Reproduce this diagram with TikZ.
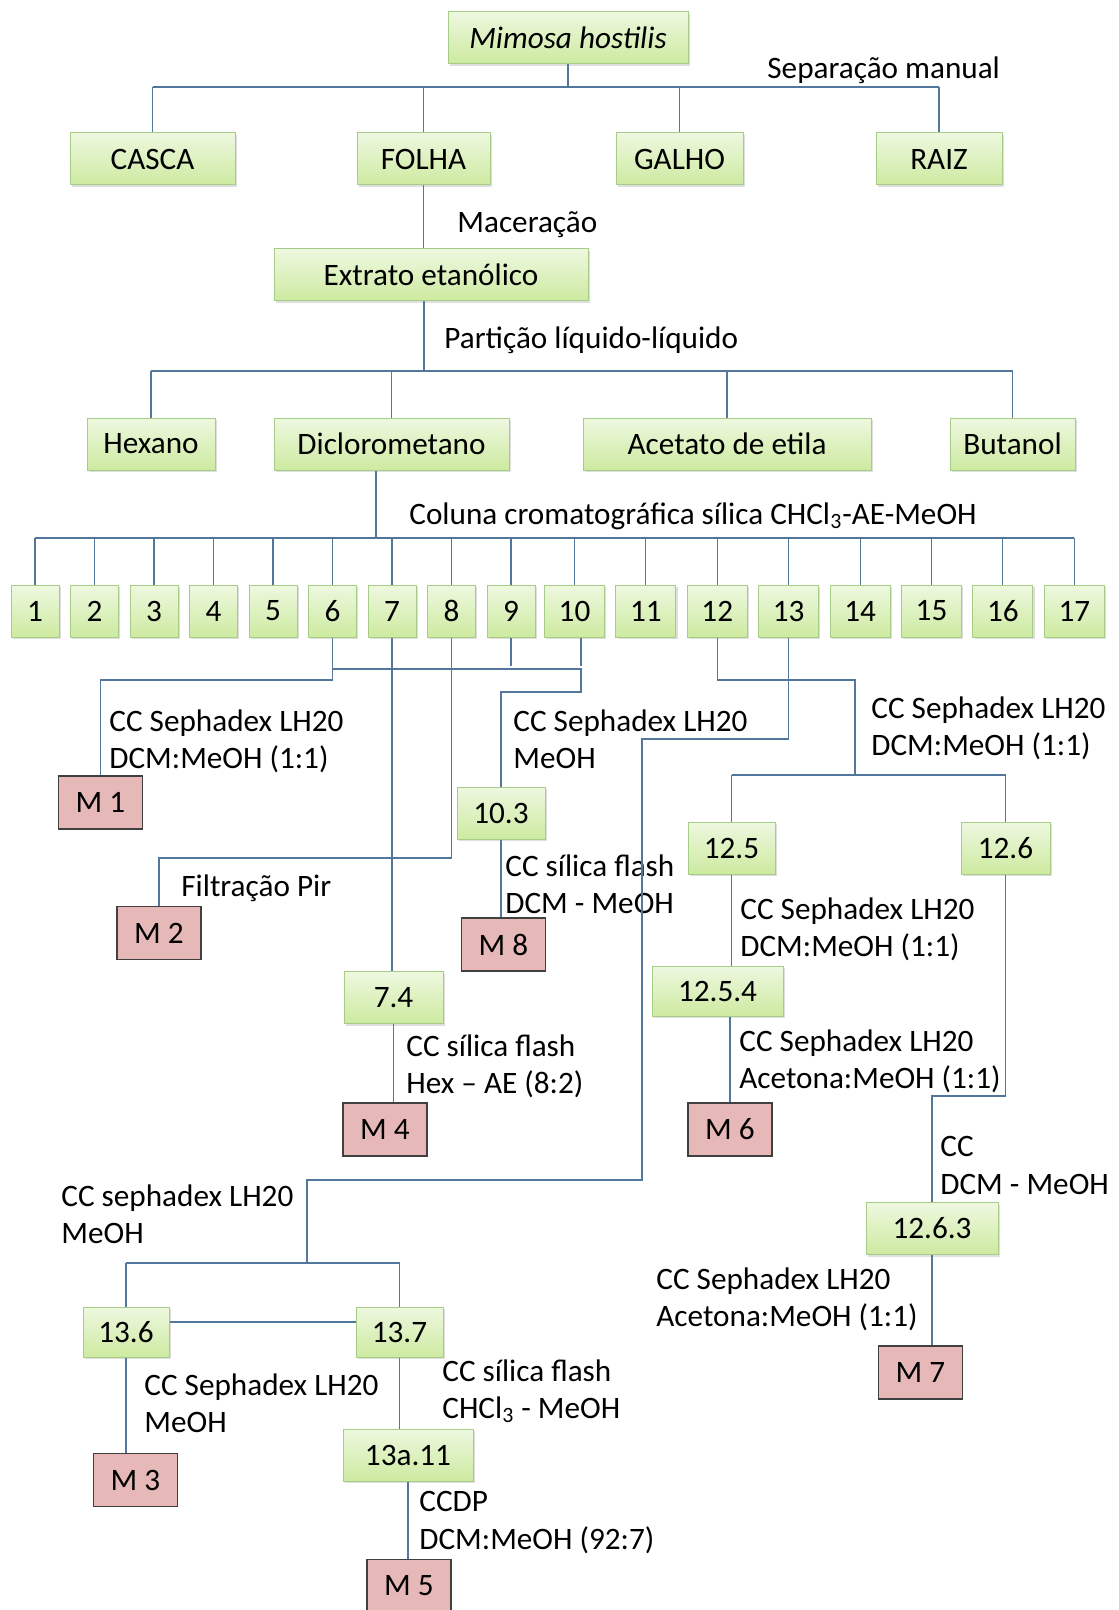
\documentclass[tikz,border=0pt]{standalone}
\usepackage{fontspec}
\setmainfont{Carlito}
\usetikzlibrary{shadows}
\definecolor{boxgreentop}{HTML}{EEF8E0}
\definecolor{boxgreenbot}{HTML}{CDEAA0}
\definecolor{boxgreenline}{HTML}{A6CC88}
\definecolor{boxred}{HTML}{E6B9B8}
\definecolor{boxredline}{HTML}{404040}
\definecolor{linkblue}{HTML}{52779B}

\begin{document}
\begin{tikzpicture}[x=0.5pt, y=-0.5pt,
  fraction/.style={rectangle, draw=boxgreenline, top color=boxgreentop, bottom color=boxgreenbot, line width=0.5pt, inner sep=0pt, minimum height=26pt, drop shadow={shadow xshift=0.8pt, shadow yshift=-1.2pt, opacity=0.25}, font=\fontsize{15.6}{18.75}\selectfont},
  compound/.style={rectangle, draw=boxredline, fill=boxred, line width=0.7pt, inner sep=0pt, minimum width=42pt, minimum height=26.5pt, font=\fontsize{15.6}{18.75}\selectfont},
  link/.style={draw=linkblue, line width=0.55pt},
  note/.style={anchor=north west, align=left, inner sep=0pt, font=\fontsize{15.6}{18.75}\selectfont}
]
  \useasboundingbox[fill=white] (0,0) rectangle (1118,1610);

  \node[fraction, minimum width=120pt] (mimosa) at (568,37.5) {\itshape Mimosa hostilis};
  \node[fraction, minimum width=82.5pt] (casca) at (152.5,159) {CASCA};
  \node[fraction, minimum width=66.5pt] (folha) at (423.5,159) {FOLHA};
  \node[fraction, minimum width=63.5pt] (galho) at (679.5,159) {GALHO};
  \node[fraction, minimum width=63pt] (raiz) at (939,159) {RAIZ};
  \node[fraction, minimum width=157pt] (extrato) at (431,275) {Extrato etanólico};
  \node[fraction, minimum width=64pt] (hexano) at (151,444) {Hexano};
  \node[fraction, minimum width=117.5pt] (dicloro) at (391.5,444) {Diclorometano};
  \node[fraction, minimum width=144pt] (acetato) at (727,444) {Acetato de etila};
  \node[fraction, minimum width=62.5pt] (butanol) at (1012.5,444) {Butanol};
  \foreach \i in {1,...,9}
    \node[fraction, minimum width=24pt] (f\i) at ({35+(\i-1)*59.5},611) {\i};
  \foreach \i in {10,...,17}
    \node[fraction, minimum width=30pt] (f\i) at ({574.5+(\i-10)*71.4},611) {\i};
  \node[fraction, minimum width=44pt] (f103) at (501,813) {10.3};
  \node[fraction, minimum width=49.5pt] (f74) at (393.5,997.5) {7.4};
  \node[fraction, minimum width=43.5pt] (f125) at (731.5,848) {12.5};
  \node[fraction, minimum width=44.5pt] (f126) at (1005.5,848) {12.6};
  \node[fraction, minimum width=65.5pt, minimum height=25pt] (f1254) at (717.5,991) {12.5.4};
  \node[fraction, minimum width=66pt] (f1263) at (932,1228.5) {12.6.3};
  \node[fraction, minimum width=43pt, minimum height=25pt] (f136) at (126,1332) {13.6};
  \node[fraction, minimum width=43.5pt, minimum height=25pt] (f137) at (399.5,1332) {13.7};
  \node[fraction, minimum width=65pt] (f13a) at (408,1455) {13a.11};

  \node[compound] (m1) at (100.5,802.5) {M 1};
  \node[compound] (m2) at (159,933) {M 2};
  \node[compound] (m3) at (135.5,1480) {M 3};
  \node[compound] (m4) at (385,1129.5) {M 4};
  \node[compound] (m5) at (409,1586) {M 5};
  \node[compound] (m6) at (730,1129.5) {M 6};
  \node[compound] (m7) at (920.5,1372.5) {M 7};
  \node[compound] (m8) at (503.5,944.5) {M 8};

  \node[note] (sepman) at (767,56) {Separação manual};
  \node[note] (macer) at (457,211) {Maceração};
  \node[note] (partic) at (444,326) {Partição líquido-líquido};
  \node[note] (coluna) at (409,502) {Coluna cromatográfica sílica CHCl\textsubscript{3}-AE-MeOH};
  \node[note] (sep6) at (109,709) {CC Sephadex LH20\\DCM:MeOH (1:1)};
  \node[note] (sep10) at (513,709) {CC Sephadex LH20\\MeOH};
  \node[note] (sep12) at (871,696) {CC Sephadex LH20\\DCM:MeOH (1:1)};
  \node[note] (filt8) at (181,874) {Filtração Pir};
  \node[note] (flash103) at (505,854) {CC sílica flash\\DCM - MeOH};
  \node[note] (sep125) at (740,897) {CC Sephadex LH20\\DCM:MeOH (1:1)};
  \node[note] (flash74) at (406,1034) {CC sílica flash\\Hex – AE (8:2)};
  \node[note] (sep1254) at (739,1029) {CC Sephadex LH20\\Acetona:MeOH (1:1)};
  \node[note] (cc126) at (940,1136) {CC\\DCM - MeOH};
  \node[note] (sep13) at (61,1184) {CC sephadex LH20\\MeOH};
  \node[note] (sep1263) at (656,1267) {CC Sephadex LH20\\Acetona:MeOH (1:1)};
  \node[note] (sep136) at (144,1373) {CC Sephadex LH20\\MeOH};
  \node[note] (flash137) at (442,1359) {CC sílica flash\\CHCl\textsubscript{3} - MeOH};
  \node[note] (ccdp) at (419,1491) {CCDP\\DCM:MeOH (92:7)};

  \coordinate (split1) at (568,87);
  \coordinate (split2) at (424,371);
  \coordinate (split3) at (376,538);
  \draw[link] (mimosa) -- (split1);
  \draw[link] (split1 -| casca) -- (split1 -| raiz);
  \foreach \n in {casca,folha,galho,raiz}
    \draw[link] (split1 -| \n) -- (\n);
  \draw[link] (folha) -- (folha |- extrato.north);
  \draw[link] (extrato.south -| split2) -- (split2);
  \draw[link] (split2 -| hexano) -- (split2 -| butanol);
  \foreach \n in {hexano,dicloro,acetato,butanol}
    \draw[link] (split2 -| \n) -- (\n);
  \draw[link] (dicloro.south -| split3) -- (split3);
  \draw[link] (split3 -| f1) -- (split3 -| f17);
  \foreach \i in {1,...,17}
    \draw[link] (split3 -| f\i) -- (f\i);

  \coordinate (m1turn) at (100.5,680);
  \coordinate (j10a) at (581,669);
  \coordinate (j10b) at (581,692);
  \coordinate (m2turn) at (159,858);
  \draw[link] (f6) |- (m1turn) -- (m1);
  \draw[link] (f6.south |- j10a) -- (j10a) -- (j10b) -| (f103);
  \draw[link] (f9.south) -- ++(0,28);
  \draw[link] (f10.south -| j10a) -- ++(0,28);
  \draw[link] (f8) |- (m2turn) -- (m2);
  \draw[link] (f7) -- (f7 |- f74.north);
  \draw[link] (f74) -- (f74 |- m4.north);
  \draw[link] (f103) -- (f103 |- m8.north);

  \coordinate (j12a) at (855,680);
  \coordinate (j12b) at (855,775);
  \coordinate (j126) at (932,1096);
  \draw[link] (f12) |- (j12a) -- (j12b);
  \draw[link] (j12b -| f125) -- (j12b -| f126);
  \draw[link] (j12b -| f125) -- (f125);
  \draw[link] (j12b -| f126) -- (f126);
  \draw[link] (f125) -- (f125 |- f1254.north);
  \draw[link] (f1254.south -| m6) -- (m6);
  \draw[link] (f126) |- (j126) -- (f1263);
  \draw[link] (f1263) -- (f1263 |- m7.north);

  \coordinate (j13a) at (642,739);
  \coordinate (j13b) at (642,1180);
  \coordinate (j13c) at (307,1263);
  \draw[link] (f13) |- (j13a) -- (j13b) -| (j13c);
  \draw[link] (j13c -| f136) -- (j13c -| f137);
  \draw[link] (j13c -| f136) -- (f136);
  \draw[link] (j13c -| f137) -- (f137);
  \draw[link] ([yshift=5pt]f136.east) -- ([yshift=5pt]f137.west);
  \draw[link] (f136) -- (f136 |- m3.north);
  \draw[link] (f137) -- (f137 |- f13a.north);
  \draw[link] (f13a) -- (f13a |- m5.north);
\end{tikzpicture}
\end{document}
